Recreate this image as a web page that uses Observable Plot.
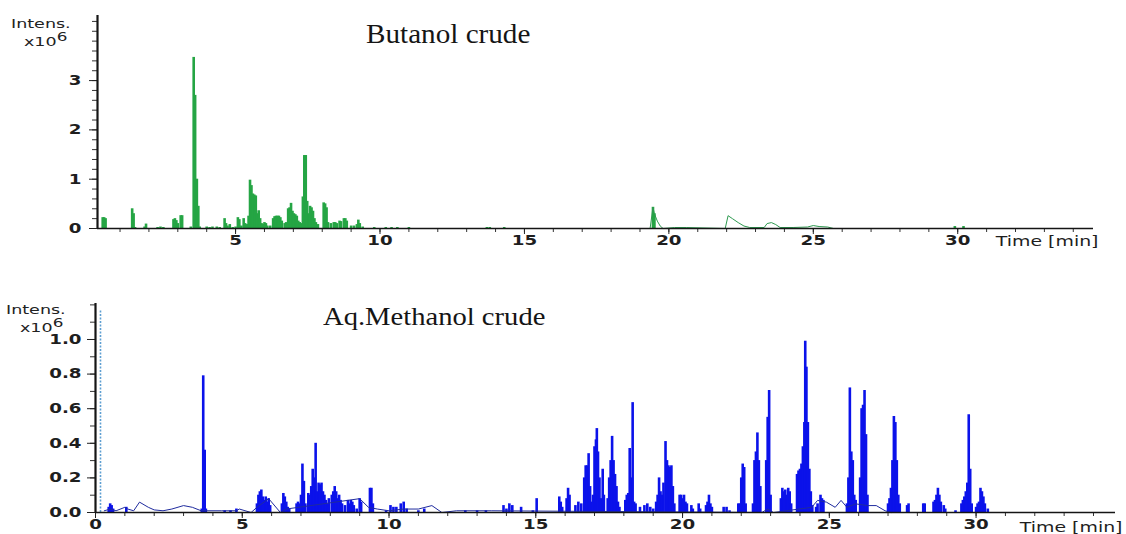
<!DOCTYPE html>
<html><head><meta charset="utf-8">
<script src="https://cdn.jsdelivr.net/npm/d3@7"></script>
<script src="https://cdn.jsdelivr.net/npm/@observablehq/plot@0.6"></script>
<style>
body{margin:0;background:#fff;}
#wrap{position:relative;width:1126px;height:534px;overflow:hidden;background:#fff;}
.panel{position:absolute;left:0;}
.title{position:absolute;font-family:"Liberation Serif",serif;color:#151515;white-space:nowrap;line-height:1;transform-origin:left top;}
.intens{position:absolute;font-family:"DejaVu Sans",sans-serif;font-size:12.5px;color:#222;white-space:nowrap;line-height:13px;height:13px;transform:scaleX(1.4);transform-origin:left top;}
.intens sup{font-size:12px;position:relative;top:-5px;vertical-align:baseline;line-height:0;}
</style>
</head><body>
<div id="wrap">
  <div class="title" id="t1" style="left:366px;top:21px;font-size:27px;transform:scaleX(1.08);">Butanol crude</div>
  <div class="title" id="t2" style="left:323px;top:304px;font-size:26px;transform:scaleX(1.1);">Aq.Methanol crude</div>
  <div class="intens" style="left:11px;top:17px;">Intens.</div>
  <div class="intens" style="left:24px;top:35px;">x10<sup>6</sup></div>
  <div class="intens" style="left:6px;top:303px;">Intens.</div>
  <div class="intens" style="left:20px;top:321px;">x10<sup>6</sup></div>
  <div class="panel" id="p1" style="top:0px;"></div>
  <div class="panel" id="p2" style="top:270px;"></div>
</div>
<script>
// ---------- Butanol crude (top) ----------
const butanolSpikeTime = [0.40,0.45,0.50, 1.42,1.47,1.52, 1.85,1.90, 2.30,2.40,2.50, 2.85,2.90,2.95,3.00, 3.10,3.15,
  3.45,3.55,3.60,3.66,3.71,3.76, 4.00,4.10,4.20,4.35,4.45, 4.62,4.67,4.72,4.80,4.90,
  5.00,5.08,5.13,5.20,5.28,5.33,5.40, 5.45,5.50,5.55,5.60,5.65,5.70,5.75,5.80,5.85,
  5.90,5.95,6.00,6.05,6.10,6.20, 6.30,6.35,6.40,6.45,6.50,6.55,6.60,6.70,6.75,
  6.82,6.87,6.92,6.97,7.02,7.07,7.12,7.17,7.22,7.27,
  7.33,7.38,7.43,7.48,7.53,7.58,7.63,7.68,7.73,7.78,7.85,
  8.05,8.10,8.15,8.20, 8.30,8.40,8.45,8.50,8.60,8.65,8.75,8.80,8.85,
  9.00,9.10,9.20,9.25,9.30,9.40, 9.80,10.20,10.40,10.60,11.00, 13.70,13.80,14.30, 19.45,19.50, 29.90,30.20];
const butanolSpikeValue = [0.22,0.22,0.20, 0.40,0.30,0.02, 0.03,0.09, 0.02,0.03,0.02, 0.18,0.20,0.16,0.10, 0.26,0.26,
  0.03,3.47,2.70,1.00,0.45,0.03, 0.03,0.02,0.03,0.03,0.02, 0.20,0.10,0.05,0.08,0.02,
  0.03,0.22,0.18,0.05,0.20,0.10,0.08, 0.25,0.98,0.87,0.70,0.68,0.66,0.30,0.36,0.20,
  0.10,0.08,0.12,0.10,0.05,0.05, 0.20,0.24,0.25,0.25,0.25,0.22,0.15,0.10,0.12,
  0.40,0.42,0.51,0.35,0.30,0.28,0.25,0.15,0.12,0.10,
  0.64,1.48,1.48,0.55,0.30,0.45,0.42,0.35,0.20,0.12,0.08,
  0.52,0.50,0.42,0.12, 0.10,0.12,0.12,0.10,0.15,0.14,0.20,0.20,0.15,
  0.05,0.05,0.08,0.17,0.10,0.03, 0.02,0.02,0.02,0.02,0.02, 0.02,0.02,0.02, 0.43,0.30, 0.04,0.04];
const butanolTraceTime  = [19.35,19.45,19.50,19.60,19.70,19.80,20.20,20.60,21.95,22.05,22.20,22.40,22.60,22.80,23.30,23.40,23.55,23.70,23.85,24.30,24.80,25.00,25.20,25.50,25.70];
const butanolTraceValue = [0.00,0.43,0.30,0.15,0.05,0.00,0.02,0.02,0.00,0.26,0.20,0.12,0.05,0.02,0.02,0.10,0.12,0.08,0.02,0.02,0.03,0.06,0.04,0.03,0.00];

// ---------- Aq.Methanol crude (bottom) ----------
const methanolSpikeTime = [0.45,0.50,0.55,0.60, 1.05, 3.62,3.67,3.72,3.76, 4.40,4.60,4.80,
  5.50,5.55,5.60,5.65,5.70,5.75,5.80,5.85,5.90,5.95, 6.35,6.40,6.45,6.50,6.55,6.60,
  6.85,6.90,6.95,7.00,7.05,7.10,7.15, 7.25,7.30,7.35,7.40,7.45,7.50,7.55,7.60,7.65,7.70,7.75,7.80,7.85,7.90,7.95,
  8.05,8.10,8.15,8.20,8.25,8.30,8.35,8.40,8.50,8.60,8.65,8.70,8.75,8.80,8.90, 9.00,9.05, 9.35,9.40,9.45,
  9.90,10.05,10.15,10.25,10.40,10.50,10.60, 11.00,11.20, 12.60,13.00,13.30,
  13.90,14.00,14.10,14.20,14.50, 14.90,15.03, 15.80,15.85,15.90, 16.05,16.10,16.15,
  16.35,16.45,16.55,16.65,16.70,16.75,16.80,16.85,16.90,
  16.95,17.00,17.05,17.08,17.12,17.17,17.22,17.28,17.32,
  17.45,17.50,17.55,17.60,17.65,17.70,17.75,17.80,17.85,
  18.05,18.10,18.15,18.20,18.25,18.30,18.35,18.40, 18.55,18.70,18.80,18.90,19.00,
  19.10,19.15,19.20,19.25,19.30,19.35,19.42,19.47,19.52,19.57,19.62,19.67,19.72,
  19.90,19.95,20.00,20.05,20.10,20.15,20.30,20.35, 20.55,20.60,20.80,20.85,20.90,20.95,21.00,
  21.40,21.50,21.60, 21.90,21.95,22.00,22.05,22.10,22.15,
  22.40,22.45,22.50,22.55,22.60,22.65, 22.85,22.90,22.95,23.00,
  23.35,23.40,23.45,23.50,23.55,23.60,23.65,23.70,
  23.90,23.95,24.00,24.05,24.10,24.15,24.18,24.22,24.27,24.32,24.37,24.42,
  24.55,24.60,24.70,24.75,24.80, 25.60,25.65,25.70,25.75,25.80,25.85,25.90,
  26.05,26.10,26.15,26.20,26.25,26.30, 27.00,27.05,27.10,27.15,27.20,27.25,27.30,27.35,27.40,
  27.65,27.70, 28.20,28.25, 28.55,28.60,28.65,28.70,28.75,28.80,28.90,28.95,
  29.30,29.50,29.55,29.60,29.65,29.70,29.75,29.80,29.85, 30.00,30.05,30.10,30.15,30.20,30.25,30.30,30.40];
const methanolSpikeValue = [0.03,0.05,0.04,0.02, 0.03, 0.02,0.79,0.36,0.02, 0.01,0.01,0.02,
  0.05,0.10,0.12,0.13,0.09,0.07,0.09,0.06,0.08,0.04, 0.05,0.11,0.09,0.06,0.03,0.02,
  0.05,0.06,0.05,0.10,0.28,0.18,0.05, 0.11,0.10,0.15,0.25,0.20,0.40,0.12,0.17,0.16,0.17,0.12,0.10,0.07,0.05,0.08,
  0.10,0.12,0.15,0.12,0.08,0.10,0.07,0.05,0.04,0.07,0.05,0.07,0.06,0.04,0.02, 0.08,0.06, 0.14,0.14,0.05,
  0.01,0.04,0.03,0.03,0.05,0.06,0.02, 0.01,0.02, 0.01,0.01,0.01,
  0.04,0.02,0.05,0.04,0.03, 0.01,0.08, 0.09,0.06,0.03, 0.08,0.14,0.10,
  0.04,0.06,0.05,0.20,0.27,0.27,0.34,0.15,0.06,
  0.10,0.38,0.42,0.485,0.35,0.20,0.08,0.25,0.10,
  0.08,0.20,0.30,0.44,0.30,0.22,0.15,0.06,0.03,
  0.07,0.10,0.11,0.37,0.20,0.635,0.06,0.05, 0.03,0.04,0.05,0.03,0.02,
  0.06,0.10,0.20,0.12,0.10,0.17,0.41,0.30,0.27,0.26,0.27,0.15,0.05,
  0.10,0.10,0.08,0.10,0.06,0.05,0.04,0.02, 0.05,0.02,0.04,0.06,0.10,0.05,0.03,
  0.03,0.03,0.01, 0.05,0.05,0.20,0.28,0.26,0.05,
  0.05,0.30,0.35,0.46,0.30,0.15, 0.30,0.55,0.705,0.10,
  0.08,0.14,0.12,0.13,0.10,0.14,0.12,0.05,
  0.22,0.24,0.25,0.28,0.38,0.52,0.99,0.84,0.52,0.25,0.12,0.04,
  0.03,0.05,0.10,0.08,0.07, 0.05,0.20,0.72,0.35,0.30,0.10,0.07,
  0.20,0.60,0.62,0.705,0.45,0.10, 0.05,0.08,0.14,0.30,0.555,0.52,0.30,0.10,0.05,
  0.04,0.05, 0.05,0.05, 0.06,0.07,0.10,0.14,0.10,0.06,0.04,0.02,
  0.01,0.05,0.07,0.09,0.12,0.17,0.565,0.25,0.05, 0.03,0.05,0.06,0.14,0.12,0.09,0.05,0.02];
const methanolTraceTime  = [0.30,0.50,0.70,1.00,1.10,1.30,1.50,1.80,2.00,2.30,2.60,3.00,3.30,3.60,3.70,4.30,4.80,4.90,5.30,5.50,5.90,6.30,6.50,
  9.00,9.30,9.60,10.00,10.50,11.00,11.46,11.80,12.30,13.00,13.50,
  22.70,22.90,23.10, 24.40,24.60,24.90,25.20,25.40,25.60,25.90,26.30,26.60,26.90,27.10];
const methanolTraceValue = [0.01,0.02,0.01,0.03,0.02,0.01,0.06,0.03,0.015,0.01,0.02,0.04,0.03,0.01,0.01,0.01,0.01,0.02,0.00,0.03,0.08,0.00,0.02,
  0.08,0.03,0.02,0.01,0.02,0.02,0.04,0.00,0.01,0.01,0.01,
  0.00,0.02,0.00, 0.03,0.07,0.06,0.03,0.07,0.03,0.05,0.04,0.04,0.01,0.00];
const methanolMarkerTime = [0.17];

// ---------- tick labels ----------
const xMajorTicks = [5, 10, 15, 20, 25, 30];
const xMajorTicksBottom = [0, 5, 10, 15, 20, 25, 30];
const yTicksTop = [0, 1, 2, 3];
const yTicksBottom = [0.0, 0.2, 0.4, 0.6, 0.8, 1.0];
const timeLabel = "Time [min]";

const minorX = d3.range(1, 35, 1);
const minorYTop = d3.range(0, 4.3, 0.2);
const minorYBottom = d3.range(0, 1.21, 0.1);

const toRows = (ts, vs) => ts.map((t, i) => ({t, v: vs[i]}));

const baseStyle = {fontFamily: "DejaVu Sans", fontSize: "13.5px", fontWeight: "bold", color: "#1e1e1e", background: "transparent", overflow: "visible"};

const green = "#25a544", blue = "#0b12ea";

const topPlot = Plot.plot({
  width: 1126, height: 260,
  marginLeft: 97, marginRight: 33, marginTop: 15, marginBottom: 32,
  x: {domain: [0.22, 34.7]},
  y: {domain: [0, 4.32]},
  style: baseStyle,
  marks: [
    Plot.ruleX(toRows(butanolSpikeTime, butanolSpikeValue), {x: "t", y1: 0, y2: "v", stroke: green, strokeWidth: 2.6}),
    Plot.line(toRows(butanolTraceTime, butanolTraceValue), {x: "t", y: "v", stroke: "#2e9a50", strokeWidth: 1}),
    Plot.axisY({ticks: minorYTop, tickSize: 5, tickFormat: () => "", label: null, stroke: "#333"}),
    Plot.axisY({ticks: yTicksTop, tickSize: 8, tickPadding: 8, tickFormat: d3.format("d"), label: null, stroke: "#222"}),
    Plot.axisX({ticks: minorX, tickSize: 4, tickFormat: () => "", label: null, stroke: "#333"}),
    Plot.axisX({ticks: xMajorTicks, tickSize: 6, tickPadding: 1, tickFormat: d3.format("d"), label: null, stroke: "#222"}),
    Plot.ruleY([0], {stroke: "#151515", strokeWidth: 1.6}),
    Plot.ruleX([0.22], {stroke: "#151515", strokeWidth: 2.2}),
    Plot.text([timeLabel], {text: d => d, frameAnchor: "bottom-right", textAnchor: "end", lineAnchor: "middle", dx: 5, dy: 13, fontWeight: "normal", fontSize: 14, fill: "#1e1e1e"})
  ]
});

const bottomPlot = Plot.plot({
  width: 1126, height: 264,
  marginLeft: 95, marginRight: 11, marginTop: 33, marginBottom: 22,
  x: {domain: [0, 34.75]},
  y: {domain: [0, 1.208]},
  style: baseStyle,
  marks: [
    Plot.ruleX(methanolMarkerTime, {x: d => d, y1: 0, y2: 1.17, stroke: "#5e9fd2", strokeWidth: 1.6, strokeDasharray: "2,1.5"}),
    Plot.ruleX(toRows(methanolSpikeTime, methanolSpikeValue), {x: "t", y1: 0, y2: "v", stroke: blue, strokeWidth: 2.6}),
    Plot.line(toRows(methanolTraceTime, methanolTraceValue), {x: "t", y: "v", stroke: "#1f2b9e", strokeWidth: 1}),
    Plot.axisY({ticks: minorYBottom, tickSize: 5, tickFormat: () => "", label: null, stroke: "#333"}),
    Plot.axisY({ticks: yTicksBottom, tickSize: 8, tickPadding: 6, tickFormat: d3.format(".1f"), label: null, stroke: "#222"}),
    Plot.axisX({ticks: minorX, tickSize: 4, tickFormat: () => "", label: null, stroke: "#333"}),
    Plot.axisX({ticks: xMajorTicksBottom, tickSize: 6, tickPadding: 1, tickFormat: d3.format("d"), label: null, stroke: "#222"}),
    Plot.ruleY([0], {stroke: "#151515", strokeWidth: 1.6}),
    Plot.ruleX([0], {stroke: "#151515", strokeWidth: 2.2}),
    Plot.text([timeLabel], {text: d => d, frameAnchor: "bottom-right", textAnchor: "end", lineAnchor: "middle", dx: 7, dy: 15, fontWeight: "normal", fontSize: 14, fill: "#1e1e1e"})
  ]
});

document.getElementById("p1").appendChild(topPlot);
document.getElementById("p2").appendChild(bottomPlot);

// widen glyphs to match the horizontally stretched original
function stretch(svg, k) {
  svg.querySelectorAll("text").forEach(el => {
    if (!el.textContent.trim()) return;
    const n = el.getComputedTextLength();
    el.setAttribute("textLength", (n * k).toFixed(2));
    el.setAttribute("lengthAdjust", "spacingAndGlyphs");
  });
}
stretch(topPlot, 1.35);
stretch(bottomPlot, 1.35);
</script>
</body></html>
